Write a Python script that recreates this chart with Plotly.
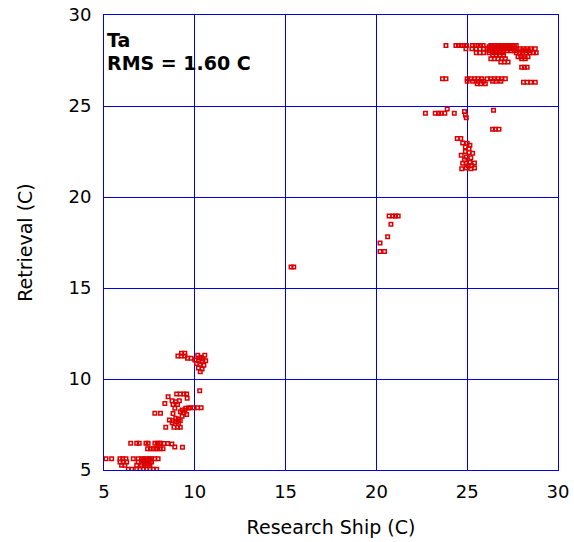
import plotly.graph_objects as go

# Cool cluster (bottom-left)
cool_ship = [6.47, 6.80, 6.94, 7.31, 7.43, 7.80, 7.93, 8.05, 8.12, 8.3, 8.5, 8.74, 9.32,
             7.40, 7.55, 7.70, 7.85, 7.95, 8.10, 8.25, 8.9,
             5.11, 5.42, 5.88, 6.03, 6.21, 6.61, 6.88, 7.07, 7.20, 7.35, 7.50, 7.62, 7.80, 7.98,
             5.88, 6.06, 6.25, 6.88, 7.07, 7.25, 7.43, 7.62, 7.15, 7.35, 7.55,
             5.97, 6.15, 6.80, 7.07, 7.35, 7.53, 7.2, 7.45,
             6.34, 6.52, 6.80, 6.98, 7.16, 7.35, 7.53, 7.71, 7.90]
cool_retr = [6.47, 6.47, 6.47, 6.47, 6.47, 6.47, 6.47, 6.47, 6.47, 6.45, 6.45, 6.43, 6.25,
             6.17, 6.17, 6.17, 6.17, 6.17, 6.17, 6.17, 6.26,
             5.62, 5.62, 5.62, 5.62, 5.62, 5.62, 5.62, 5.62, 5.62, 5.62, 5.62, 5.62, 5.62, 5.62,
             5.44, 5.44, 5.44, 5.44, 5.44, 5.44, 5.44, 5.44, 5.53, 5.53, 5.53,
             5.26, 5.26, 5.26, 5.26, 5.26, 5.26, 5.35, 5.35,
             5.04, 5.04, 5.04, 5.04, 5.04, 5.04, 5.04, 5.04, 5.04]

# Mid-left cluster
mid_ship = [10.27, 9.0, 9.2, 9.4, 9.55, 9.58, 8.53, 8.35, 8.75, 8.95, 9.15, 8.8, 9.05, 8.9,
            9.5, 9.75, 9.95, 10.15, 10.35, 9.2, 9.4, 9.55, 9.3, 7.8, 8.11, 8.8, 8.6, 8.8,
            9.0, 9.2, 8.75, 9.1, 8.4, 8.85, 9.05, 9.2, 9.3, 9.45, 8.95, 9.1, 9.65]
mid_retr = [9.35, 9.18, 9.18, 9.18, 9.18, 8.94, 9.03, 8.66, 8.8, 8.75, 8.8, 8.6, 8.6, 8.39,
            8.39, 8.42, 8.42, 8.42, 8.42, 8.2, 8.15, 8.05, 7.95, 8.12, 8.12, 8.1, 7.75, 7.7,
            7.65, 7.7, 7.6, 7.55, 7.35, 7.35, 7.35, 7.35, 8.3, 8.28, 7.85, 7.8, 8.4]

# Upper-left cluster
warmish_ship = [9.27, 9.45, 9.07, 9.25, 9.45, 9.6, 9.8, 10.16, 10.35, 10.55, 10.0, 10.2,
                10.4, 10.6, 10.1, 10.3, 10.5, 10.2, 10.4, 10.3, 10.45, 10.25]
warmish_retr = [11.41, 11.41, 11.26, 11.26, 11.26, 11.14, 11.14, 11.3, 11.2, 11.3, 11.04, 11.0,
                10.95, 11.0, 10.85, 10.8, 10.75, 10.6, 10.55, 10.4, 11.1, 11.15]

# Middle points
middle_ship = [15.3, 15.45, 20.7, 20.9, 21.05, 21.2, 20.8, 20.62, 20.2, 20.2, 20.45]
middle_retr = [16.15, 16.15, 18.96, 18.96, 18.96, 18.96, 18.5, 17.82, 17.47, 17.0, 17.0]

# Warm cluster, lower part
warm_lo_ship = [22.7, 23.24, 23.42, 23.55, 23.77, 24.29, 23.9, 24.85, 24.9, 24.95, 26.45,
                26.4, 26.55, 26.75, 24.45, 24.65, 24.75, 25.0, 25.15, 24.9, 25.1, 24.67,
                24.9, 25.1, 25.3, 24.95, 25.2, 24.75, 24.95, 25.15, 25.4, 24.7, 24.95, 25.2, 25.4,
                25.05, 25.25, 24.85]
warm_lo_retr = [24.6, 24.6, 24.6, 24.6, 24.6, 24.6, 24.83, 24.7, 24.5, 24.35, 24.76,
                23.72, 23.72, 23.72, 23.22, 23.22, 22.97, 22.95, 22.85, 22.75, 22.65, 22.3,
                22.5, 22.45, 22.4, 22.2, 22.15, 21.85, 21.85, 21.9, 21.87, 21.55, 21.6, 21.55, 21.6,
                21.72, 21.72, 22.05]

# Warm cluster, upper part
warm_hi_ship = [23.83, 24.38, 24.52, 24.67, 24.82, 24.96, 25.29, 25.44, 25.59, 25.73, 25.88,
                26.3, 26.5, 26.7, 26.9, 27.1, 27.3, 27.5, 27.7,
                24.93, 25.26, 25.5, 25.7, 25.9, 26.1, 26.3, 26.5, 26.7, 26.9, 27.1, 27.3,
                27.5, 27.7, 27.9, 28.1, 28.3, 28.5, 28.75,
                25.5, 25.7, 25.9, 26.2, 26.4, 26.6, 26.8, 27.0, 27.7, 27.9, 28.05, 28.25,
                28.45, 28.65, 28.8,
                27.8, 27.95, 28.15, 28.35,
                26.3, 26.5, 26.7, 26.9, 27.1, 28.0, 28.2,
                26.85, 27.05, 27.25,
                28.0, 28.15, 28.3,
                23.64, 23.83, 25.0, 25.2, 25.4, 25.6, 25.8, 26.1, 26.3, 26.5, 26.7, 26.9, 27.1,
                25.0, 25.3, 25.6, 25.9, 26.4, 26.6, 26.85,
                25.55, 25.75, 26.0,
                28.1, 28.3, 28.5, 28.75,
                26.2, 26.4, 26.6, 26.8, 27.0, 27.2, 27.4, 27.6,
                26.2, 26.4, 26.6, 26.8, 27.0, 27.2, 27.4, 27.6, 28.0, 28.2, 28.4,
                26.4, 26.6, 26.8, 27.0]
warm_hi_retr = [28.33] * 19 + [28.15] * 19 + [27.92] * 15 + [27.7] * 4 + [27.6] * 7 + \
               [27.42] * 3 + [27.13] * 3 + [26.5] * 13 + [26.36] * 7 + [26.22] * 3 + [26.3] * 4 + \
               [28.25] * 8 + [28.03] * 11 + [27.8] * 4

ship = cool_ship + mid_ship + warmish_ship + middle_ship + warm_lo_ship + warm_hi_ship
retr = cool_retr + mid_retr + warmish_retr + middle_retr + warm_lo_retr + warm_hi_retr

ticks = [5, 10, 15, 20, 25, 30]
blue = "#0000e6"
font = "DejaVu Sans, Verdana, sans-serif"

fig = go.Figure(go.Scatter(
    x=ship, y=retr, mode="markers",
    marker=dict(symbol="square-open", size=3.5, color="#dd0000",
                line=dict(width=1.5, color="#dd0000")),
    showlegend=False, hoverinfo="skip"))

axis_common = dict(range=[5, 30], tickvals=ticks, showgrid=True, gridcolor=blue, gridwidth=1,
                   showline=True, linecolor=blue, linewidth=1, mirror=True, zeroline=False,
                   automargin=False, ticks="", ticklabeloverflow="allow",
                   tickfont=dict(family=font, size=18, color="black"))

fig.update_layout(
    width=574, height=542,
    margin=dict(l=104, r=16, t=15, b=72),
    paper_bgcolor="white", plot_bgcolor="white",
    font=dict(family=font, size=18, color="black"),
    xaxis=dict(**axis_common, ticklabelstandoff=5,
               title=dict(text="Research Ship (C)", font=dict(family=font, size=19), standoff=20)),
    yaxis=dict(**axis_common, ticklabelstandoff=8,
               title=dict(text="Retrieval (C)", font=dict(family=font, size=19), standoff=30)),
    annotations=[
        dict(text="<b>Ta</b>", x=0.002, y=0.973, xref="paper", yref="paper", xanchor="left",
             yanchor="top", showarrow=False, font=dict(family=font, size=19, color="black")),
        dict(text="<b>RMS = 1.60 C</b>", x=0.002, y=0.923, xref="paper", yref="paper",
             xanchor="left", yanchor="top", showarrow=False,
             font=dict(family=font, size=19, color="black")),
    ],
)

fig.write_html("out.html", config={"displayModeBar": False},
               post_script="document.body.style.margin='0';")
